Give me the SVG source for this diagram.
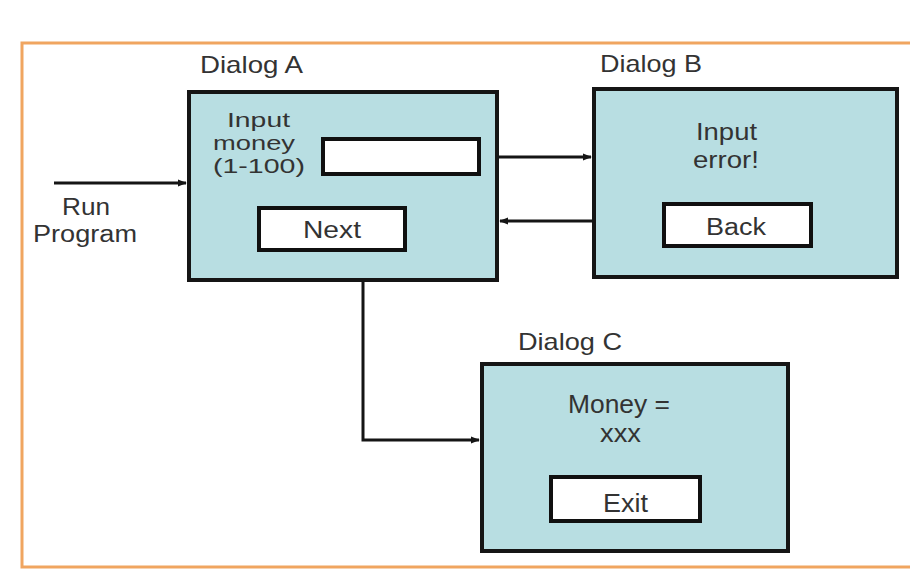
<svg xmlns="http://www.w3.org/2000/svg" width="910" height="569" viewBox="0 0 910 569">
  <defs>
    <style>
      .frame { fill: none; stroke: #f0a560; stroke-width: 3; }
      .dialog { fill: #b8dee2; stroke: #151515; stroke-width: 4; }
      .field { fill: #ffffff; stroke: #101010; stroke-width: 4; }
      .conn { fill: none; stroke: #151515; stroke-width: 3; }
      text { font-family: "Liberation Sans", Arial, sans-serif; fill: #333333; text-anchor: middle; }
      .title { font-size: 24px; }
      .label { font-size: 23px; }
      .tight { font-size: 20px; }
      .big { font-size: 25px; }
    </style>
    <marker id="arrow" viewBox="0 0 10 10" refX="9" refY="5" markerWidth="3" markerHeight="3" orient="auto" markerUnits="strokeWidth">
      <path d="M0,1 L10,5 L0,9 z" fill="#151515"/>
    </marker>
  </defs>

  <rect x="0" y="0" width="910" height="569" fill="#ffffff"/>
  <!-- outer frame, open on the right -->
  <path class="frame" d="M912,43 H22 V567 H912"/>

  <!-- connectors -->
  <g id="connectors">
    <line class="conn" x1="54" y1="183" x2="186" y2="183" marker-end="url(#arrow)"/>
    <line class="conn" x1="499" y1="157" x2="591" y2="157" marker-end="url(#arrow)"/>
    <line class="conn" x1="592" y1="221" x2="500" y2="221" marker-end="url(#arrow)"/>
    <polyline class="conn" points="363,281 363,440 479,440" marker-end="url(#arrow)"/>
  </g>

  <!-- entry label -->
  <g id="run-program">
    <text class="label" x="86" y="215" textLength="48" lengthAdjust="spacingAndGlyphs">Run</text>
    <text class="label" x="85" y="242" textLength="104" lengthAdjust="spacingAndGlyphs">Program</text>
  </g>

  <!-- Dialog A -->
  <g id="dialog-a">
    <text class="title" x="251.5" y="73" textLength="103" lengthAdjust="spacingAndGlyphs">Dialog A</text>
    <rect class="dialog" x="189" y="92" width="308" height="188"/>
    <text class="tight" x="258.5" y="127" textLength="63" lengthAdjust="spacingAndGlyphs">Input</text>
    <text class="tight" x="254" y="150" textLength="82" lengthAdjust="spacingAndGlyphs">money</text>
    <text class="tight" x="259" y="173" textLength="92" lengthAdjust="spacingAndGlyphs">(1-100)</text>
    <rect class="field" x="323" y="139" width="156" height="35"/>
    <rect class="field" x="259" y="208" width="146" height="42"/>
    <text class="label" x="332" y="238" textLength="58" lengthAdjust="spacingAndGlyphs">Next</text>
  </g>

  <!-- Dialog B -->
  <g id="dialog-b">
    <text class="title" x="651" y="72" textLength="102" lengthAdjust="spacingAndGlyphs">Dialog B</text>
    <rect class="dialog" x="594" y="89" width="303" height="188"/>
    <text class="label" x="726.5" y="140" textLength="61" lengthAdjust="spacingAndGlyphs">Input</text>
    <text class="label" x="726" y="168" textLength="66" lengthAdjust="spacingAndGlyphs">error!</text>
    <rect class="field" x="664" y="204" width="147" height="42"/>
    <text class="label" x="736" y="235" textLength="60" lengthAdjust="spacingAndGlyphs">Back</text>
  </g>

  <!-- Dialog C -->
  <g id="dialog-c">
    <text class="title" x="570" y="350" textLength="104" lengthAdjust="spacingAndGlyphs">Dialog C</text>
    <rect class="dialog" x="482" y="364" width="306" height="187"/>
    <text class="big" x="619" y="413" textLength="102" lengthAdjust="spacingAndGlyphs">Money =</text>
    <text class="big" x="620.5" y="442" textLength="41" lengthAdjust="spacingAndGlyphs">xxx</text>
    <rect class="field" x="551" y="477" width="149" height="44"/>
    <text class="big" x="625.5" y="512" textLength="45" lengthAdjust="spacingAndGlyphs">Exit</text>
  </g>
</svg>
